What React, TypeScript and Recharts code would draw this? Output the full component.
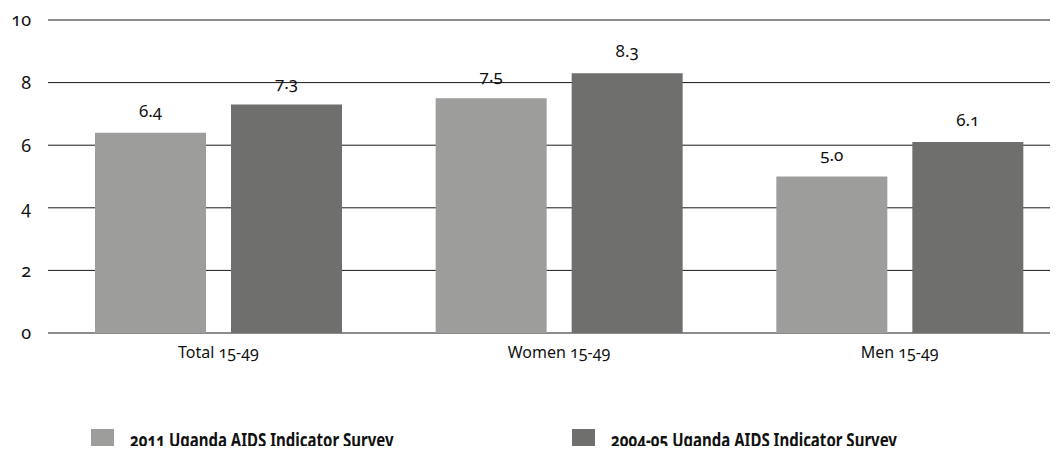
import { BarChart, Bar, XAxis, YAxis, CartesianGrid, Legend, LabelList } from "recharts";

const CATEGORIES = ["Total 15-49", "Women 15-49", "Men 15-49"];
const SURVEY_2011 = [6.4, 7.5, 5.0];
const SURVEY_2004 = [7.3, 8.3, 6.1];
const Y_TICKS = [0, 2, 4, 6, 8, 10];

const SERIES = [
  { key: "s2011", name: "2011 Uganda AIDS Indicator Survey", color: "#9d9d9c" },
  { key: "s2004", name: "2004-05 Uganda AIDS Indicator Survey", color: "#6f6f6e" },
];

const data = CATEGORIES.map((name, i) => ({
  name,
  s2011: SURVEY_2011[i],
  s2004: SURVEY_2004[i],
}));

const FONT = "'Noto Sans', 'Open Sans', sans-serif";

// legend text in the original is a narrow face, so squeeze Noto a bit
const CustomLegend = () => {
  const lefts = [91, 572];
  return (
    <div style={{ position: "relative", height: 23, width: 1058 }}>
      {SERIES.map((s, i) => (
        <div
          key={s.key}
          style={{
            position: "absolute",
            left: lefts[i],
            top: 0,
            height: 23,
            display: "flex",
            alignItems: "center",
            fontFamily: FONT,
            fontWeight: 700,
            fontSize: 19,
            lineHeight: "23px",
            color: "#111",
            fontVariantNumeric: "oldstyle-nums",
            whiteSpace: "nowrap",
          }}
        >
          <span style={{ width: 23, height: 23, background: s.color, display: "inline-block", marginRight: 16, flexShrink: 0 }} />
          <span style={{ display: "inline-block", transform: "scaleX(0.79)", transformOrigin: "left center" }}>
            {s.name}
          </span>
        </div>
      ))}
    </div>
  );
};

const App = () => {
  return (
    <div style={{ margin: -8, width: 1058, height: 454, overflow: "hidden", background: "#fff", position: "relative" }}>
      <BarChart
        width={1070}
        height={454}
        data={data}
        margin={{ top: 20, right: 0, bottom: 68, left: 0 }}
        barGap={25}
        barSize={111}
        style={{ fontFamily: FONT, fontVariantNumeric: "oldstyle-nums" }}
      >
        <CartesianGrid vertical={false} stroke="#1a1a1a" strokeWidth={1} />
        <XAxis
          dataKey="name"
          height={30}
          axisLine={false}
          tickLine={false}
          tickSize={0}
          tickMargin={14}
          tick={{ fill: "#111", fontSize: 16 }}
        />
        <YAxis
          width={48}
          domain={[0, 10]}
          ticks={Y_TICKS}
          axisLine={false}
          tickLine={false}
          tickSize={0}
          tickMargin={17}
          tick={{ fill: "#111", fontSize: 18 }}
        />
        <Legend
          content={<CustomLegend />}
          wrapperStyle={{ position: "absolute", top: 429, left: 0, width: 1058, height: 23 }}
        />
        {SERIES.map((s) => (
          <Bar key={s.key} dataKey={s.key} name={s.name} fill={s.color} isAnimationActive={false}>
            <LabelList
              dataKey={s.key}
              position="top"
              offset={16}
              formatter={(v: number) => v.toFixed(1)}
              style={{ fill: "#111", fontSize: 17 }}
            />
          </Bar>
        ))}
      </BarChart>
    </div>
  );
};

export default App;
